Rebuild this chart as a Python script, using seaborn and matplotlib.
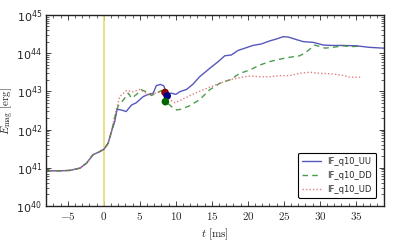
import numpy as np
import pandas as pd
import matplotlib
matplotlib.use("Agg")
import matplotlib.pyplot as plt
import seaborn as sns
from matplotlib.ticker import LogLocator, LogFormatterMathtext, MultipleLocator, NullFormatter

# common early evolution (shared by all runs)
t_early = [-8.0, -6.0, -4.7, -3.3, -2.4, -1.5, -0.8, 0.0, 0.6, 1.07]
logE_early = [40.92, 40.92, 40.93, 40.99, 41.12, 41.34, 41.40, 41.48, 41.64, 41.95]

t_uu = [1.5, 1.85, 2.45, 3.1, 3.84, 4.5, 5.46, 6.16, 6.85, 7.3, 7.87, 8.33, 8.7, 9.4, 10.0,
        10.55, 11.5, 12.4, 13.3, 14.7, 15.9, 16.8, 17.7, 18.65, 19.6, 20.7, 21.9, 23.05,
        24.0, 24.9, 25.6, 26.8, 27.7, 29.1, 30.5, 31.8, 33.2, 35.1, 36.9, 38.8, 39.5]
logE_uu = [42.2, 42.53, 42.51, 42.47, 42.64, 42.70, 42.86, 42.92, 42.95, 43.15, 43.18, 43.14,
           42.95, 42.95, 42.92, 42.99, 43.05, 43.19, 43.38, 43.60, 43.78, 43.93, 43.95, 44.07,
           44.13, 44.20, 44.24, 44.32, 44.37, 44.43, 44.42, 44.35, 44.30, 44.28, 44.21, 44.20,
           44.20, 44.19, 44.15, 44.13, 44.12]

t_dd = [1.5, 2.0, 2.7, 3.4, 3.85, 4.5, 5.2, 5.9, 6.6, 7.3, 8.0, 8.4, 8.6, 8.8, 9.4, 10.1,
        10.7, 11.9, 13.3, 14.7, 16.1, 17.5, 18.9, 20.3, 21.7, 23.1, 24.4, 25.8, 27.2, 27.9,
        28.6, 29.3, 30.0, 30.7, 31.8, 33.2, 34.6, 35.6]
logE_dd = [42.3, 42.62, 42.77, 42.95, 42.82, 42.91, 43.04, 42.99, 42.89, 42.95, 43.02, 42.95,
           42.73, 42.70, 42.60, 42.51, 42.53, 42.62, 42.78, 43.04, 43.21, 43.30, 43.47, 43.56,
           43.69, 43.78, 43.84, 43.89, 43.93, 44.00, 44.10, 44.21, 44.17, 44.13, 44.15, 44.19,
           44.17, 44.19]

t_ud = [1.5, 2.2, 3.15, 4.07, 5.0, 6.2, 7.1, 8.0, 8.5, 9.2, 9.9, 10.8, 11.9, 13.3, 14.7,
        16.1, 17.5, 18.9, 20.3, 21.7, 23.1, 24.4, 25.8, 27.2, 28.6, 30.0, 31.4, 32.8, 34.2, 35.6]
logE_ud = [42.35, 42.86, 43.02, 42.99, 43.05, 42.91, 42.95, 42.99, 42.97, 42.78, 42.70, 42.78,
           42.88, 43.00, 43.11, 43.21, 43.30, 43.36, 43.40, 43.38, 43.38, 43.41, 43.41, 43.47,
           43.50, 43.47, 43.46, 43.43, 43.37, 43.37]

labels = ["IF_q10_UU", "IF_q10_DD", "IF_q10_UD"]

# markers (time, log10 E)
mark_t = [8.5, 8.8, 8.55]
mark_logE = [42.97, 42.88, 42.73]
mark_colors = ["#8b0000", "#00008b", "#006400"]

sns.set_style("ticks")
plt.rcParams["mathtext.fontset"] = "cm"
plt.rcParams["font.family"] = ["DejaVu Sans"]

fig = plt.figure(figsize=(3.95, 2.44), dpi=100)
ax = fig.add_axes([0.117, 0.156, 0.855, 0.783])

series = [(t_uu, logE_uu, "#3a3ab0", "-"), (t_dd, logE_dd, "#2e8b2e", (0, (4, 3))),
          (t_ud, logE_ud, "#e06666", (0, (1, 1.5)))]
for (tt, ll, col, ls), lab in zip(series, labels):
    t_all = np.array(t_early + tt)
    e_all = 10 ** np.array(logE_early + ll)
    sns.lineplot(x=t_all, y=e_all, ax=ax, color=col, lw=1.0, alpha=0.85,
                 linestyle=ls, label=lab, sort=False)

ax.axvline(0, color="#e6dc78", lw=1.2, zorder=1)

for tt, ll, col in zip(mark_t, mark_logE, mark_colors):
    ax.scatter([tt], [10 ** ll], s=30, color=col, zorder=5, edgecolor="none")

ax.set_yscale("log")
ax.set_ylim(1e40, 1e45)
ax.yaxis.set_major_locator(LogLocator(base=10, numticks=10))
ax.yaxis.set_major_formatter(LogFormatterMathtext())
ax.yaxis.set_minor_locator(LogLocator(base=10, subs=np.arange(2, 10), numticks=20))
ax.yaxis.set_minor_formatter(NullFormatter())
xt = [-5, 0, 5, 10, 15, 20, 25, 30, 35]
ax.set_xticks(xt)
ax.set_xticklabels([r"$%d$" % v for v in xt])
ax.xaxis.set_minor_locator(MultipleLocator(1))
ax.set_xlim(-8, 38.9)

ax.tick_params(which="both", direction="in", top=True, right=True, labelsize=8)
ax.tick_params(which="major", length=3.5, width=0.6, pad=3)
ax.tick_params(which="minor", length=2, width=0.5)
for s in ax.spines.values():
    s.set_linewidth(1.0)
    s.set_color("#222222")

ax.set_xlabel(r"$t\ [\mathrm{ms}]$", fontsize=8, labelpad=3)
ax.set_ylabel(r"$E_{\mathrm{mag}}\ [\mathrm{erg}]$", fontsize=8, labelpad=0)

leg = ax.legend(loc="lower right", fontsize=6, frameon=True, fancybox=True,
                edgecolor="black", handlelength=2.2, borderpad=0.5, labelspacing=0.6,
                bbox_to_anchor=(0.99, 0.02))
leg.get_frame().set_linewidth(0.8)
leg.get_frame().set_alpha(1)

fig.savefig("out.png", dpi=100)
